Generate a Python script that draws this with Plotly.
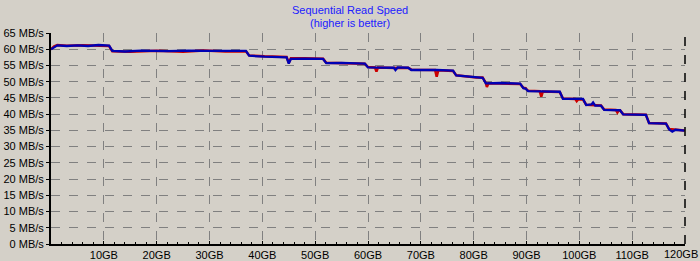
import plotly.graph_objects as go

# Data (GB position, MB/s)
blue_x = [0, 0.6, 1.2, 3, 5, 7, 9, 11.0, 11.6, 14, 17, 22, 26, 30, 34, 36.9, 37.5, 40.4, 44.6, 45.0, 45.4, 48, 51.5, 52.1, 55, 59.4, 60.0,
          64.9, 65.2, 65.6, 67.6, 68.2, 73.0, 76.1, 76.7, 80.5, 81.7, 82.3, 85, 88.8, 89.4, 89.8, 90.3, 92.8, 96.3, 96.9, 99.5,
          100.7, 101.3, 102.3, 102.6, 103.0, 104.1, 104.7, 107.7, 108.3, 112.6, 113.2, 116.4, 117.0, 117.6, 118.2, 119.9]
blue_y = [60.0, 60.6, 61.2, 61.0, 61.2, 61.0, 61.3, 61.1, 59.5, 59.3, 59.6, 59.4, 59.6, 59.5, 59.6, 59.5, 58.0, 57.7, 57.5, 55.6, 57.0, 57.1, 57.0, 55.7, 55.8, 55.6, 54.4,
          54.3, 53.6, 54.4, 54.3, 53.6, 53.6, 53.4, 51.9, 51.2, 51.2, 49.5, 49.6, 49.4, 48.0, 47.9, 47.1, 47.0, 46.9, 44.7, 44.8,
          44.7, 42.8, 43.0, 43.6, 42.6, 42.6, 41.3, 41.2, 39.9, 39.8, 37.2, 37.1, 35.3, 34.6, 35.2, 34.9]

red_x = [0, 0.6, 1.2, 3, 6, 9, 11.0, 11.6, 15, 20, 25, 29, 33, 36.9, 37.5, 40.4, 44.6, 45.0, 45.4, 48, 51.5, 52.1, 55, 59.4, 60.0,
         61.3, 61.6, 61.9, 65, 67.6, 68.2, 72.7, 73.0, 73.3, 76.1, 76.7, 80.5, 81.7, 82.3, 82.5, 82.8, 85, 88.8, 89.4, 89.8, 90.3,
         92.5, 92.8, 93.1, 96.3, 96.9, 99.2, 99.5, 99.8, 100.7, 101.3, 103, 104.1, 104.7, 106.9, 107.2, 107.5, 107.7, 108.3,
         112.6, 113.2, 116.4, 117.0, 119.9]
red_y = [60.0, 60.9, 61.3, 61.1, 61.2, 61.1, 61.0, 59.4, 59.2, 59.5, 59.2, 59.6, 59.3, 59.4, 58.1, 57.8, 57.6, 55.8, 57.2, 57.2, 57.1, 55.8, 55.7, 55.5, 54.5,
         54.4, 53.1, 54.4, 54.2, 54.3, 53.7, 53.6, 51.5, 53.5, 53.3, 52.0, 51.3, 51.3, 49.6, 48.4, 49.5, 49.5, 49.3, 48.1, 48.0, 47.2,
         47.1, 45.4, 47.0, 46.8, 44.8, 44.7, 44.0, 44.6, 44.5, 42.9, 42.8, 42.7, 41.4, 41.3, 40.5, 41.2, 41.2, 40.0,
         39.8, 37.3, 37.1, 35.4, 35.0]

x_ticks = [10, 20, 30, 40, 50, 60, 70, 80, 90, 100, 110, 120]
x_labels = [f"{v}GB" for v in x_ticks]
y_ticks = list(range(0, 66, 5))
y_labels = [f"{v} MB/s" for v in y_ticks]

BG = "#D4D0C8"
FONT = "Liberation Sans"

fig = go.Figure()
fig.add_trace(go.Scatter(x=red_x, y=red_y, mode="lines",
                         line=dict(color="#CC0000", width=2.5), showlegend=False))
fig.add_trace(go.Scatter(x=blue_x, y=blue_y, mode="lines",
                         line=dict(color="#0000B4", width=2.3), showlegend=False))

# last x label drawn right-aligned at the window edge so it is not clipped
axis_labels = x_labels[:-1] + [""]

fig.update_layout(
    width=700, height=261,
    margin=dict(l=51, r=15, t=33, b=17, autoexpand=False),
    paper_bgcolor=BG, plot_bgcolor=BG,
    font=dict(family=FONT, size=11, color="#000000"),
    xaxis=dict(range=[0, 120], tickvals=x_ticks, ticktext=axis_labels, automargin=False,
               ticklabeloverflow="allow",
               showgrid=True, gridcolor="#808080", griddash="dash", gridwidth=1,
               showline=True, linecolor="#000000", linewidth=2,
               ticks="inside", ticklen=3, tickcolor="#000000",
               minor=dict(dtick=2, ticks="inside", ticklen=2, tickcolor="#000000", showgrid=False),
               zeroline=False, fixedrange=True, tickfont=dict(size=11)),
    yaxis=dict(range=[0, 65], tickvals=y_ticks, ticktext=y_labels, automargin=False,
               ticklabeloverflow="allow",
               showgrid=True, gridcolor="#808080", griddash="dash", gridwidth=1,
               showline=True, linecolor="#000000", linewidth=2,
               ticks="outside", ticklen=3, tickcolor="#000000",
               zeroline=False, fixedrange=True, tickfont=dict(size=11)),
    shapes=[
        dict(type="line", xref="paper", yref="paper", x0=1, x1=1, y0=0, y1=1,
             line=dict(color="#000000", width=1.5, dash="dash")),
    ],
    annotations=[
        dict(text="Sequential Read Speed", xref="paper", yref="paper", x=(350 - 51) / 634, y=1,
             yshift=23, showarrow=False, font=dict(color="#2020FF", size=11, family=FONT),
             xanchor="center", yanchor="middle"),
        dict(text="(higher is better)", xref="paper", yref="paper", x=(350 - 51) / 634, y=1,
             yshift=10, showarrow=False, font=dict(color="#2020FF", size=11, family=FONT),
             xanchor="center", yanchor="middle"),
        dict(text=x_labels[-1], xref="x", yref="paper", x=x_ticks[-1], y=0,
             xshift=15, yshift=-10, showarrow=False, font=dict(size=11, family=FONT, color="#000000"),
             xanchor="right", yanchor="middle"),
    ],
)

fig.write_html("out.html")
